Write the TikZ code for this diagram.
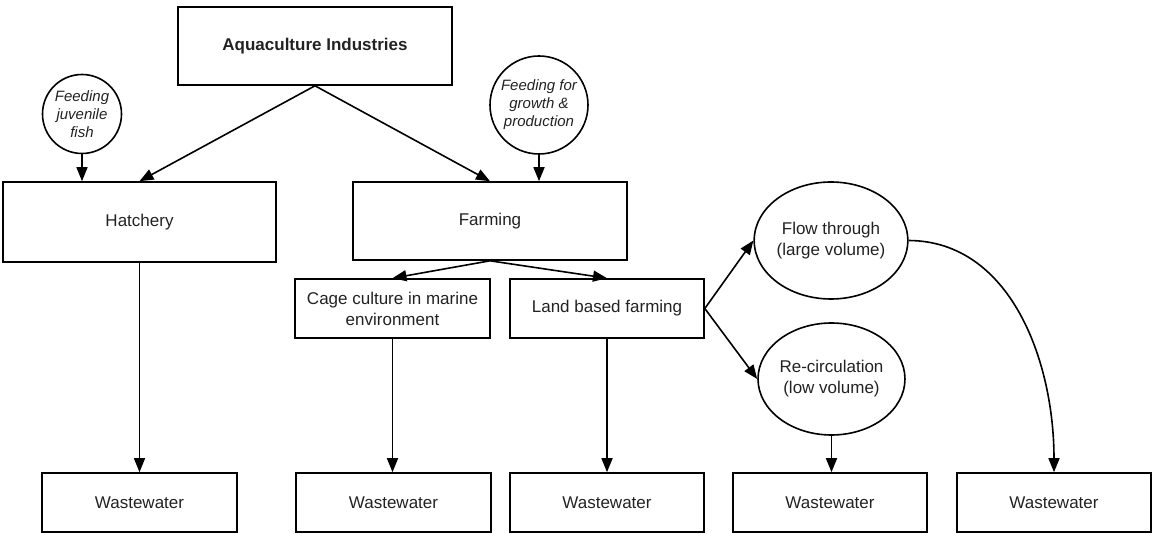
\documentclass[tikz,border=0pt]{standalone}
\usepackage{fontspec}
\setmainfont{Liberation Sans}
\usetikzlibrary{arrows.meta,shapes.geometric}
\definecolor{txt}{HTML}{222222}
\begin{document}
\begin{tikzpicture}[x=1pt,y=-1pt,
  box/.style={draw, line width=1.6pt, rectangle, inner sep=2pt, align=center, text=txt,
    font=\fontsize{17}{21}\selectfont},
  feed/.style={draw, line width=1.6pt, circle, inner sep=0pt, align=center, text=txt,
    font=\fontsize{15}{18}\selectfont\itshape},
  oval/.style={draw, line width=1.6pt, ellipse, inner sep=0pt, align=center, text=txt,
    font=\fontsize{17}{21}\selectfont},
  arr/.style={line width=1.6pt, -{Triangle[length=14pt,width=11pt]}}]
\useasboundingbox (0,0) rectangle (1152,534);
% nodes
\node[box, minimum width=274pt, minimum height=78pt, font=\fontsize{17}{21}\selectfont\bfseries] (aqua) at (315,46) {Aquaculture Industries};
\node[box, minimum width=273pt, minimum height=80pt] (hatch) at (139.5,222) {Hatchery};
\node[box, minimum width=274pt, minimum height=78pt] (farm) at (490,221) {Farming};
\node[box, minimum width=195pt, minimum height=59pt] (cage) at (392.5,308.5) {Cage culture in marine\\environment};
\node[box, minimum width=194pt, minimum height=59pt] (land) at (607,308.5) {Land based farming};
\node[feed, minimum size=79pt] (juv) at (82,114) {Feeding\\juvenile\\fish};
\node[feed, minimum size=98pt] (grow) at (539,105) {Feeding for\\growth \&\\production};
\node[oval, minimum width=136pt, minimum height=117pt] (flow) at (831,240.5) {Flow through\\(large volume)};
\node[oval, minimum width=137pt, minimum height=112pt] (recirc) at (831.5,379) {Re-circulation\\(low volume)};
\node[box, minimum width=195pt, minimum height=59pt] (w1) at (139.5,502.5) {Wastewater};
\node[box, minimum width=195pt, minimum height=59pt] (w2) at (393.5,502.5) {Wastewater};
\node[box, minimum width=194pt, minimum height=59pt] (w3) at (607,502.5) {Wastewater};
\node[box, minimum width=194pt, minimum height=59pt] (w4) at (830,502.5) {Wastewater};
\node[box, minimum width=194pt, minimum height=59pt] (w5) at (1054,502.5) {Wastewater};
% connectors
\draw[arr] (aqua.south) -- (hatch.north);
\draw[arr] (aqua.south) -- (farm.north);
\draw[arr] (juv.south) -- (juv.south |- hatch.north);
\draw[arr] (grow.south) -- (grow.south |- farm.north);
\draw[arr] (farm.south) -- (cage.north);
\draw[arr] (farm.south) -- (land.north);
\draw[arr] (land.east) -- (flow.west);
\draw[arr] (land.east) -- (recirc.west);
\draw[arr] (hatch.south) -- (w1.north);
\draw[arr] (cage.south) -- (cage.south |- w2.north);
\draw[arr] (land.south) -- (w3.north);
\draw[arr] (recirc.south) -- (recirc.south |- w4.north);
\draw[arr] (flow.east) .. controls (1010,241) and (1054,360) .. (w5.north);
\end{tikzpicture}
\end{document}
